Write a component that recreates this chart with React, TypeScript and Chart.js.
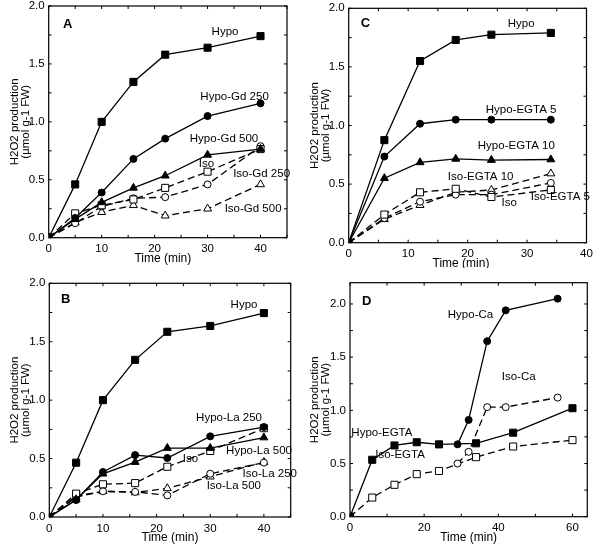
import { useEffect, useRef } from "react";
import { Chart, registerables } from "chart.js";
Chart.register(...registerables);

const FONT = "'Liberation Sans', Arial, Helvetica, sans-serif";

// ---------- Panel A ----------
const timeA = [0, 5, 10, 16, 22, 30, 40];
const hypoA = [0, 0.46, 1.0, 1.345, 1.58, 1.64, 1.74];
const hypoGd250 = [0, 0.17, 0.39, 0.68, 0.855, 1.05, 1.16];
const hypoGd500 = [0, 0.16, 0.305, 0.43, 0.535, 0.715, 0.765];
const isoA = [0, 0.21, 0.28, 0.33, 0.43, 0.57, 0.765];
const isoGd250 = [0, 0.125, 0.27, 0.34, 0.35, 0.46, 0.79];
const isoGd500 = [0, 0.13, 0.22, 0.28, 0.19, 0.25, 0.46];

// ---------- Panel B ----------
const timeB = [0, 5, 10, 16, 22, 30, 40];
const hypoB = [0, 0.465, 1.0, 1.345, 1.585, 1.635, 1.745];
const hypoLa250 = [0, 0.145, 0.385, 0.53, 0.505, 0.69, 0.77];
const hypoLa500 = [0, 0.15, 0.37, 0.47, 0.59, 0.59, 0.68];
const isoB = [0, 0.2, 0.28, 0.29, 0.43, 0.565, 0.76];
const isoLa250 = [0, 0.18, 0.22, 0.215, 0.185, 0.37, 0.465];
const isoLa500 = [0, 0.17, 0.22, 0.21, 0.245, 0.345, 0.47];

// ---------- Panel C ----------
const timeC = [0, 6, 12, 18, 24, 34];
const hypoC = [0, 0.875, 1.55, 1.73, 1.775, 1.79];
const hypoEgta5 = [0, 0.735, 1.015, 1.05, 1.05, 1.05];
const hypoEgta10 = [0, 0.55, 0.685, 0.715, 0.705, 0.71];
const isoC = [0, 0.24, 0.43, 0.46, 0.39, 0.45];
const isoEgta5 = [0, 0.21, 0.35, 0.41, 0.41, 0.51];
const isoEgta10 = [0, 0.2, 0.32, 0.43, 0.45, 0.59];

// ---------- Panel D ----------
const timeD = [0, 6, 12, 18, 24, 34, 44, 60];
const hypoEgtaD = [0, 0.535, 0.67, 0.7, 0.68, 0.69, 0.79, 1.02];
const isoEgtaD = [0, 0.18, 0.3, 0.4, 0.43, 0.56, 0.66, 0.72];
const timeCa = [29, 32, 37, 42, 56];
const hypoCa = [0.68, 0.91, 1.65, 1.94, 2.05];
const isoCa = [0.5, 0.61, 1.03, 1.03, 1.12];

// ---------- ticks ----------
const yTicks = [0, 0.5, 1.0, 1.5, 2.0];
const xTicks40 = [0, 10, 20, 30, 40];
const xTicks60 = [0, 20, 40, 60];

// ---------- text labels (data coordinates) ----------
const labelsA = [
  { text: "Hypo", x: 33.3, y: 1.78 },
  { text: "Hypo-Gd 250", x: 35.1, y: 1.22 },
  { text: "Hypo-Gd 500", x: 33.1, y: 0.85 },
  { text: "Iso", x: 29.8, y: 0.64 },
  { text: "Iso-Gd 250", x: 40.2, y: 0.55 },
  { text: "Iso-Gd 500", x: 38.6, y: 0.25 },
];
const labelsB = [
  { text: "Hypo", x: 36.3, y: 1.82 },
  { text: "Hypo-La 250", x: 33.5, y: 0.845 },
  { text: "Hypo-La 500", x: 39.1, y: 0.57 },
  { text: "Iso", x: 26.3, y: 0.5 },
  { text: "Iso-La 250", x: 41.1, y: 0.37 },
  { text: "Iso-La 500", x: 34.4, y: 0.27 },
];
const labelsC = [
  { text: "Hypo", x: 29.0, y: 1.865 },
  { text: "Hypo-EGTA 5", x: 29.0, y: 1.13 },
  { text: "Hypo-EGTA 10", x: 28.2, y: 0.83 },
  { text: "Iso-EGTA 10", x: 22.2, y: 0.56 },
  { text: "Iso", x: 27.0, y: 0.34 },
  { text: "Iso-EGTA 5", x: 35.6, y: 0.39 },
];
const labelsD = [
  { text: "Hypo-Ca", x: 32.5, y: 1.9 },
  { text: "Iso-Ca", x: 45.5, y: 1.315 },
  { text: "Hypo-EGTA", x: 8.6, y: 0.79 },
  { text: "Iso-EGTA", x: 13.5, y: 0.585 },
];

type Series = {
  name: string;
  xs: number[];
  ys: number[];
  marker: "rect" | "circle" | "triangle";
  filled: boolean;
  dashed: boolean;
};

type PanelCfg = {
  letter: string;
  letterPos: { x: number; y: number };
  left: number;
  top: number;
  w: number;
  h: number;
  area: { left: number; right: number; top: number; bottom: number };
  xMax: number;
  yMax: number;
  xTicks: number[];
  titleShift: number;
  series: Series[];
  labels: { text: string; x: number; y: number }[];
};

const panels: PanelCfg[] = [
  {
    letter: "A",
    letterPos: { x: 3.6, y: 1.84 },
    left: 0,
    top: 0,
    w: 300,
    h: 268,
    area: { left: 48.7, right: 287, top: 5, bottom: 237.7 },
    xMax: 45,
    yMax: 2.0,
    xTicks: xTicks40,
    titleShift: 3,
    series: [
      { name: "Hypo", xs: timeA, ys: hypoA, marker: "rect", filled: true, dashed: false },
      { name: "Hypo-Gd 250", xs: timeA, ys: hypoGd250, marker: "circle", filled: true, dashed: false },
      { name: "Hypo-Gd 500", xs: timeA, ys: hypoGd500, marker: "triangle", filled: true, dashed: false },
      { name: "Iso", xs: timeA, ys: isoA, marker: "rect", filled: false, dashed: true },
      { name: "Iso-Gd 250", xs: timeA, ys: isoGd250, marker: "circle", filled: false, dashed: true },
      { name: "Iso-Gd 500", xs: timeA, ys: isoGd500, marker: "triangle", filled: false, dashed: true },
    ],
    labels: labelsA,
  },
  {
    letter: "C",
    letterPos: { x: 2.8, y: 1.87 },
    left: 300,
    top: 0,
    w: 297,
    h: 268,
    area: { left: 48.7, right: 286.5, top: 8.3, bottom: 242.7 },
    xMax: 40,
    yMax: 2.0,
    xTicks: xTicks40,
    titleShift: 4,
    series: [
      { name: "Hypo", xs: timeC, ys: hypoC, marker: "rect", filled: true, dashed: false },
      { name: "Hypo-EGTA 5", xs: timeC, ys: hypoEgta5, marker: "circle", filled: true, dashed: false },
      { name: "Hypo-EGTA 10", xs: timeC, ys: hypoEgta10, marker: "triangle", filled: true, dashed: false },
      { name: "Iso", xs: timeC, ys: isoC, marker: "rect", filled: false, dashed: true },
      { name: "Iso-EGTA 5", xs: timeC, ys: isoEgta5, marker: "circle", filled: false, dashed: true },
      { name: "Iso-EGTA 10", xs: timeC, ys: isoEgta10, marker: "triangle", filled: false, dashed: true },
    ],
    labels: labelsC,
  },
  {
    letter: "B",
    letterPos: { x: 3.07, y: 1.86 },
    left: 0,
    top: 270,
    w: 300,
    h: 283,
    area: { left: 49.3, right: 290.7, top: 13.3, bottom: 247 },
    xMax: 45,
    yMax: 2.0,
    xTicks: xTicks40,
    titleShift: 0,
    series: [
      { name: "Hypo", xs: timeB, ys: hypoB, marker: "rect", filled: true, dashed: false },
      { name: "Hypo-La 250", xs: timeB, ys: hypoLa250, marker: "circle", filled: true, dashed: false },
      { name: "Hypo-La 500", xs: timeB, ys: hypoLa500, marker: "triangle", filled: true, dashed: false },
      { name: "Iso", xs: timeB, ys: isoB, marker: "rect", filled: false, dashed: true },
      { name: "Iso-La 250", xs: timeB, ys: isoLa250, marker: "circle", filled: false, dashed: true },
      { name: "Iso-La 500", xs: timeB, ys: isoLa500, marker: "triangle", filled: false, dashed: true },
    ],
    labels: labelsB,
  },
  {
    letter: "D",
    letterPos: { x: 4.5, y: 2.02 },
    left: 300,
    top: 270,
    w: 297,
    h: 283,
    area: { left: 50, right: 287.3, top: 12.7, bottom: 246.7 },
    xMax: 64,
    yMax: 2.2,
    xTicks: xTicks60,
    titleShift: 0,
    series: [
      { name: "Hypo-Ca", xs: timeCa, ys: hypoCa, marker: "circle", filled: true, dashed: false },
      { name: "Hypo-EGTA", xs: timeD, ys: hypoEgtaD, marker: "rect", filled: true, dashed: false },
      { name: "Iso-Ca", xs: timeCa, ys: isoCa, marker: "circle", filled: false, dashed: true },
      { name: "Iso-EGTA", xs: timeD, ys: isoEgtaD, marker: "rect", filled: false, dashed: true },
    ],
    labels: labelsD,
  },
];

const radiusFor = (m: string) => (m === "rect" ? 5 : m === "circle" ? 3.5 : 4.6);

function Panel({ cfg }: { cfg: PanelCfg }) {
  const ref = useRef<HTMLCanvasElement>(null);
  useEffect(() => {
    const canvas = ref.current;
    if (!canvas) return;
    const a = cfg.area;
    const xTitleLH = 13.2;
    const xTitlePadBottom = cfg.h - a.bottom - 20.8 - xTitleLH / 2;

    const decor = {
      id: "decor" + cfg.letter,
      beforeDatasetsDraw(chart: any) {
        const { ctx, chartArea } = chart;
        const xs = chart.scales.x;
        const ys = chart.scales.y;
        ctx.save();
        ctx.strokeStyle = "#000";
        ctx.lineWidth = 1.2;
        ctx.strokeRect(chartArea.left, chartArea.top, chartArea.right - chartArea.left, chartArea.bottom - chartArea.top);
        ctx.lineWidth = 1;
        const xs2: number[] = [];
        const xt = cfg.xTicks;
        const xStep = xt[1] - xt[0];
        for (let v = 0; v <= cfg.xMax + 1e-9; v += xStep / 2) xs2.push(v);
        xs2.forEach((v) => {
          const p = xs.getPixelForValue(v);
          ctx.beginPath();
          ctx.moveTo(p, chartArea.bottom);
          ctx.lineTo(p, chartArea.bottom - 3);
          ctx.moveTo(p, chartArea.top);
          ctx.lineTo(p, chartArea.top + 3);
          ctx.stroke();
        });
        for (let v = 0; v <= cfg.yMax + 1e-9; v += 0.25) {
          const p = ys.getPixelForValue(v);
          ctx.beginPath();
          ctx.moveTo(chartArea.left, p);
          ctx.lineTo(chartArea.left + 3, p);
          ctx.moveTo(chartArea.right, p);
          ctx.lineTo(chartArea.right - 3, p);
          ctx.stroke();
        }
        ctx.restore();
      },
      afterDatasetsDraw(chart: any) {
        const { ctx } = chart;
        const xs = chart.scales.x;
        const ys = chart.scales.y;
        ctx.save();
        ctx.fillStyle = "#000";
        ctx.textAlign = "center";
        ctx.textBaseline = "middle";
        ctx.font = `11.5px ${FONT}`;
        cfg.labels.forEach((l) => {
          ctx.fillText(l.text, xs.getPixelForValue(l.x), ys.getPixelForValue(l.y));
        });
        ctx.font = `bold 13px ${FONT}`;
        ctx.fillText(cfg.letter, xs.getPixelForValue(cfg.letterPos.x), ys.getPixelForValue(cfg.letterPos.y));
        ctx.restore();
      },
    };

    const datasets = cfg.series.map((s) => ({
      label: s.name,
      data: s.xs.map((x, i) => ({ x, y: s.ys[i] })),
      borderColor: "#000",
      borderWidth: 1.3,
      borderDash: s.dashed ? [7, 4] : [],
      pointStyle: s.marker,
      pointRadius: radiusFor(s.marker),
      pointBackgroundColor: s.filled ? "#000" : "#fff",
      pointBorderColor: "#000",
      pointBorderWidth: 1,
      tension: 0,
      fill: false,
    }));

    const chart = new Chart(canvas, {
      type: "line",
      data: { datasets },
      options: {
        animation: false,
        responsive: false,
        maintainAspectRatio: false,
        layout: { padding: { left: 0, top: a.top, right: cfg.w - a.right, bottom: 0 } },
        plugins: { legend: { display: false }, tooltip: { enabled: false } },
        scales: {
          x: {
            type: "linear",
            min: 0,
            max: cfg.xMax,
            afterBuildTicks: (s: any) => {
              s.ticks = cfg.xTicks.map((v) => ({ value: v }));
            },
            afterFit: (s: any) => {
              s.height = cfg.h - a.bottom;
              s.paddingLeft = 0;
              s.paddingRight = 0;
            },
            grid: { display: false, drawTicks: false },
            border: { display: false },
            ticks: {
              padding: 4.5,
              color: "#000",
              font: { family: FONT, size: 11.5 },
              maxRotation: 0,
              autoSkip: false,
              callback: (v: any) => String(v),
            },
            title: {
              display: true,
              text: "Time (min)" + "\u00a0".repeat(cfg.titleShift),
              color: "#000",
              font: { family: FONT, size: 12, lineHeight: 1.1 },
              padding: { top: 0, bottom: xTitlePadBottom },
            },
          },
          y: {
            type: "linear",
            min: 0,
            max: cfg.yMax,
            afterBuildTicks: (s: any) => {
              s.ticks = yTicks.map((v) => ({ value: v }));
            },
            afterFit: (s: any) => {
              s.width = a.left;
              s.paddingTop = 0;
              s.paddingBottom = 0;
            },
            grid: { display: false, drawTicks: false },
            border: { display: false },
            ticks: {
              padding: 4,
              color: "#000",
              font: { family: FONT, size: 11.5 },
              autoSkip: false,
              callback: (v: any) => Number(v).toFixed(1),
            },
            title: {
              display: true,
              text: ["H2O2 production", "(\u00b5mol g-1 FW)"],
              color: "#000",
              font: { family: FONT, size: 11.5, lineHeight: 1.0 },
              padding: { top: 9, bottom: 0 },
            },
          },
        },
      },
      plugins: [decor],
    } as any);
    return () => chart.destroy();
  }, [cfg]);
  return (
    <div style={{ position: "absolute", left: cfg.left, top: cfg.top, width: cfg.w, height: cfg.h }}>
      <canvas ref={ref} width={cfg.w} height={cfg.h} style={{ width: cfg.w, height: cfg.h, display: "block" }} />
    </div>
  );
}

export default function App() {
  return (
    <div style={{ position: "absolute", left: 0, top: 0, width: 597, height: 553, background: "#fff" }}>
      {panels.map((p) => (
        <Panel key={p.letter} cfg={p} />
      ))}
    </div>
  );
}
